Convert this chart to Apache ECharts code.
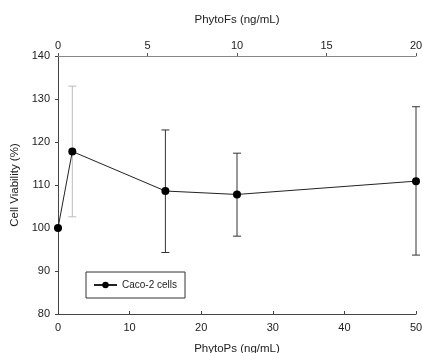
<!DOCTYPE html>
<html><head><meta charset="utf-8">
<script src="https://cdn.jsdelivr.net/npm/echarts@6/dist/echarts.min.js"></script>
<style>html,body{margin:0;padding:0;background:#fff}#c{width:422px;height:353px}</style>
</head><body><div id="c"></div>
<script>
// Data
const phytoPs = [0, 2, 15, 25, 50];
const viability = [100, 117.8, 108.6, 107.8, 110.9];
const errUpper = [100, 133, 122.8, 117.4, 128.2];
const errLower = [100, 102.6, 94.3, 98.1, 93.7];
const bottomTicks = [0, 10, 20, 30, 40, 50];
const topTicks = [0, 5, 10, 15, 20];
const yTicks = [80, 90, 100, 110, 120, 130, 140];
const seriesName = 'Caco-2 cells';

const errColors = ['#333', '#bbb', '#333', '#333', '#333'];
const font = 'Liberation Sans, Arial, sans-serif';

const chart = echarts.init(document.getElementById('c'), null, {renderer: 'canvas'});
const errData = phytoPs.map((x, i) => [x, errLower[i], errUpper[i], i]);
const axisLine = {show: true, lineStyle: {color: '#444', width: 1}};
chart.setOption({
  animation: false,
  backgroundColor: '#fff',
  grid: {left: 58, right: 6, top: 56, bottom: 39, containLabel: false, outerBoundsMode: 'none'},
  xAxis: [
    {type: 'value', position: 'bottom', min: bottomTicks[0], max: bottomTicks[bottomTicks.length-1],
     interval: bottomTicks[1]-bottomTicks[0],
     name: 'PhytoPs (ng/mL)', nameLocation: 'middle', nameGap: 29,
     nameTextStyle: {fontFamily: font, fontSize: 11.5, color: '#222'},
     axisLine: axisLine, axisTick: {show: true, inside: true, length: 3, lineStyle: {color: '#444'}},
     axisLabel: {fontFamily: font, fontSize: 11, color: '#222', margin: 8},
     splitLine: {show: false}},
    {type: 'value', position: 'top', min: topTicks[0], max: topTicks[topTicks.length-1],
     interval: topTicks[1]-topTicks[0],
     name: 'PhytoFs (ng/mL)', nameLocation: 'middle', nameGap: 30,
     nameTextStyle: {fontFamily: font, fontSize: 11.5, color: '#222'},
     axisLine: {show: true, lineStyle: {color: '#888', width: 1}},
     axisTick: {show: true, length: 3, lineStyle: {color: '#555'}},
     axisLabel: {fontFamily: font, fontSize: 11, color: '#222', margin: 5},
     splitLine: {show: false}}
  ],
  yAxis: [
    {type: 'value', position: 'left', min: yTicks[0], max: yTicks[yTicks.length-1],
     interval: yTicks[1]-yTicks[0],
     name: 'Cell Viability (%)', nameLocation: 'middle', nameGap: 34,
     nameTextStyle: {fontFamily: font, fontSize: 11.5, color: '#222'},
     axisLine: axisLine, axisTick: {show: true, length: 3, lineStyle: {color: '#444'}},
     axisLabel: {fontFamily: font, fontSize: 11, color: '#222', margin: 8},
     splitLine: {show: false}},
    {type: 'value', position: 'right', min: yTicks[0], max: yTicks[yTicks.length-1],
     axisLine: axisLine, axisTick: {show: false}, axisLabel: {show: false}, splitLine: {show: false}}
  ],
  legend: {
    show: true, left: 86, top: 272, orient: 'horizontal',
    padding: [8, 8, 8, 7], borderColor: '#333', borderWidth: 1, borderRadius: 0,
    itemWidth: 23, itemHeight: 8, itemGap: 4,
    textStyle: {fontFamily: font, fontSize: 10, color: '#222'},
    data: [{name: seriesName}]
  },
  series: [
    {type: 'custom', name: 'err', xAxisIndex: 0, yAxisIndex: 0, z: 1,
     data: errData,
     renderItem: function (params, api) {
       const x = api.value(0);
       const lo = api.coord([x, api.value(1)]);
       const hi = api.coord([x, api.value(2)]);
       const idx = api.value(3);
       const c = errColors[idx];
       const hw = 4;
       return {type: 'group', children: [
         {type: 'line', shape: {x1: lo[0], y1: lo[1], x2: hi[0], y2: hi[1]}, style: {stroke: c, lineWidth: 1}},
         {type: 'line', shape: {x1: hi[0]-hw, y1: hi[1], x2: hi[0]+hw, y2: hi[1]}, style: {stroke: c, lineWidth: 1}},
         {type: 'line', shape: {x1: lo[0]-hw, y1: lo[1], x2: lo[0]+hw, y2: lo[1]}, style: {stroke: c, lineWidth: 1}}
       ]};
     }},
    {type: 'line', name: seriesName, xAxisIndex: 0, yAxisIndex: 0, z: 3,
     data: phytoPs.map((x, i) => [x, viability[i]]),
     symbol: 'circle', symbolSize: 8, showSymbol: true,
     lineStyle: {color: '#222', width: 1},
     itemStyle: {color: '#000'}}
  ]
});
</script></body></html>
